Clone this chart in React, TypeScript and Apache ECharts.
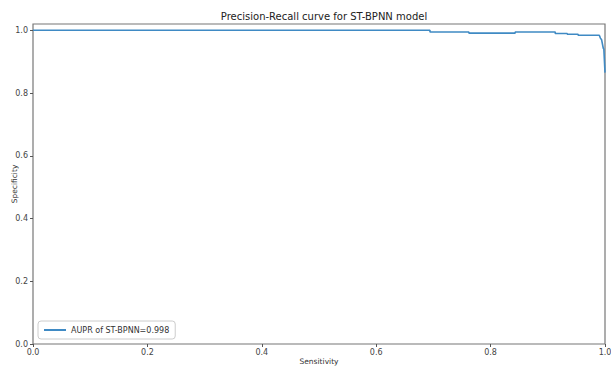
import React, { useEffect, useRef } from "react";
import * as echarts from "echarts";

const recall = [0, 0.694, 0.694, 0.762, 0.762, 0.843, 0.843, 0.913, 0.913, 0.934, 0.934, 0.953, 0.953, 0.99, 0.992, 0.994, 0.997, 0.998, 1.0];
const precision = [1.0, 1.0, 0.9945, 0.9945, 0.991, 0.991, 0.9945, 0.9945, 0.9896, 0.9896, 0.9873, 0.9873, 0.984, 0.984, 0.975, 0.97, 0.9427, 0.94, 0.865];
const yTicks = [0, 0.2, 0.4, 0.6, 0.8, 1.0];
const xTicks = [0, 0.2, 0.4, 0.6, 0.8, 1.0];
const seriesName = "AUPR of ST-BPNN=0.998";
const titleText = "Precision-Recall curve for ST-BPNN model";

export default function App() {
  const ref = useRef<HTMLDivElement>(null);
  useEffect(() => {
    if (!ref.current) return;
    const chart = echarts.init(ref.current, undefined, { renderer: "svg" });
    const font = "DejaVu Sans";
    chart.setOption({
      animation: false,
      textStyle: { fontFamily: font },
      title: {
        text: titleText,
        left: 319,
        textAlign: "center",
        top: 6,
        textStyle: { fontSize: 10, fontWeight: "normal", color: "#222", fontFamily: font },
      },
      grid: {
        left: 33,
        right: 6,
        top: 24,
        bottom: 22,
        containLabel: false,
        outerBoundsMode: "none",
        show: true,
        borderColor: "#777",
        borderWidth: 1.2,
        backgroundColor: "#fff",
      },
      legend: {
        left: 38,
        top: 321,
        data: [{ name: seriesName, icon: "rect" }],
        itemWidth: 22,
        itemHeight: 2,
        itemGap: 6,
        padding: [5, 6, 5, 6],
        borderColor: "#ccc",
        borderWidth: 1,
        borderRadius: 3,
        textStyle: { fontSize: 8, color: "#333", fontFamily: font },
      },
      xAxis: {
        type: "value",
        min: 0,
        max: 1,
        interval: 0.2,
        name: "Sensitivity",
        nameLocation: "middle",
        nameGap: 13,
        nameMoveOverlap: false,
        nameTextStyle: { fontSize: 7.5, color: "#333", fontFamily: font, verticalAlign: "top" },
        axisLine: { show: false },
        axisTick: { show: true, length: 3, lineStyle: { color: "#555" }, customValues: xTicks },
        axisLabel: {
          fontSize: 8,
          color: "#444",
          margin: 4,
          customValues: xTicks,
          formatter: (v: number) => v.toFixed(1),
        },
        splitLine: { show: false },
      },
      yAxis: {
        type: "value",
        min: 0,
        max: 1.02,
        name: "Specificity",
        nameLocation: "middle",
        nameGap: 15,
        nameMoveOverlap: false,
        nameRotate: 90,
        nameTextStyle: { fontSize: 7.5, color: "#333", fontFamily: font },
        axisLine: { show: false },
        axisTick: { show: true, length: 3, lineStyle: { color: "#555" }, customValues: yTicks },
        axisLabel: {
          fontSize: 8,
          color: "#444",
          margin: 5,
          customValues: yTicks,
          formatter: (v: number) => v.toFixed(1),
        },
        splitLine: { show: false },
      },
      series: [
        {
          name: seriesName,
          type: "line",
          data: recall.map((r, i) => [r, precision[i]]),
          showSymbol: false,
          symbol: "none",
          lineStyle: { color: "#3f8ac4", width: 1.6 },
          itemStyle: { color: "#3f8ac4" },
        },
      ],
    });
    return () => chart.dispose();
  }, []);
  return <div ref={ref} style={{ width: 611, height: 366, position: "absolute", left: 0, top: 0, background: "#fff" }} />;
}
